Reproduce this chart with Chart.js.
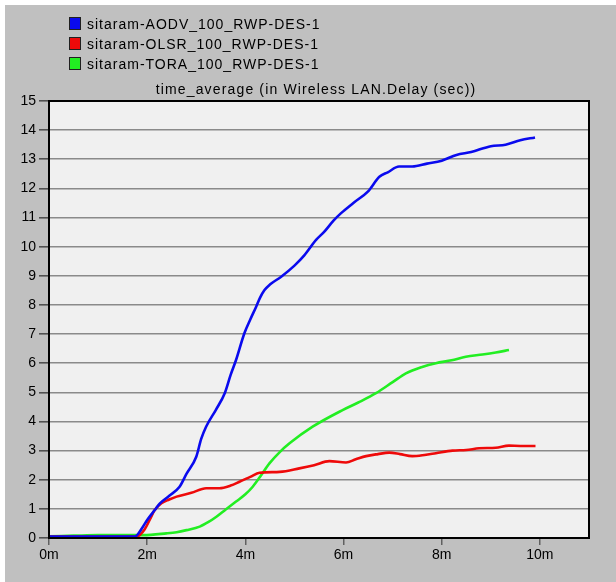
<!DOCTYPE html>
<html>
<head>
<meta charset="utf-8">
<script src="https://cdn.jsdelivr.net/npm/chart.js@4/dist/chart.umd.min.js"></script>
<style>
  html, body { margin: 0; padding: 0; background: #ffffff; }
  #frame { position: absolute; left: 5px; top: 5px; width: 611px; height: 577px; background: #c0c0c0; }
  #chart { position: absolute; left: 0; top: 0; }
  #legend { position: absolute; left: 64px; top: 9px; font-family: "Liberation Sans", Arial, sans-serif; font-size: 14px; letter-spacing: 1px; color: #000; }
  .row { height: 20px; line-height: 20px; white-space: nowrap; }
  .box { display: inline-block; width: 10px; height: 11px; border: 1px solid #202020; vertical-align: -1px; margin-right: 6px; }
  #title { position: absolute; left: 0; width: 622px; top: 75px; text-align: center; font-family: "Liberation Sans", Arial, sans-serif; font-size: 14px; letter-spacing: 1.15px; color: #000; line-height: 18px; }
</style>
</head>
<body>
<div id="frame">
  <canvas id="chart" width="611" height="577"></canvas>
  <div id="legend"></div>
  <div id="title"></div>
</div>
<script>
const seriesNames = ["sitaram-AODV_100_RWP-DES-1", "sitaram-OLSR_100_RWP-DES-1", "sitaram-TORA_100_RWP-DES-1"];
const chartTitle = "time_average (in Wireless LAN.Delay (sec))";
const xTickValues = [0, 2, 4, 6, 8, 10];
const xTickSuffix = "m";

const aodvX = [0, 0.5, 1.0, 1.5, 1.75, 1.9, 2.0, 2.15, 2.26, 2.45, 2.66, 2.8, 3.0, 3.1, 3.2, 3.4, 3.58, 3.7, 3.81, 3.98, 4.1, 4.22, 4.3, 4.39, 4.5, 4.73, 5.0, 5.2, 5.44, 5.6, 5.8, 5.95, 6.2, 6.5, 6.73, 6.9, 7.13, 7.4, 7.7, 8.0, 8.3, 8.6, 9.0, 9.3, 9.6, 9.9];
const aodvY = [0.05, 0.05, 0.05, 0.05, 0.05, 0.35, 0.62, 0.95, 1.19, 1.45, 1.76, 2.2, 2.79, 3.4, 3.82, 4.4, 4.97, 5.6, 6.11, 7.03, 7.5, 7.94, 8.25, 8.51, 8.7, 8.97, 9.35, 9.7, 10.23, 10.5, 10.9, 11.15, 11.5, 11.9, 12.4, 12.55, 12.75, 12.75, 12.85, 12.95, 13.15, 13.25, 13.45, 13.5, 13.65, 13.75];

const olsrX = [0, 0.5, 1.0, 1.5, 1.79, 1.95, 2.05, 2.15, 2.29, 2.45, 2.6, 2.9, 3.2, 3.47, 3.7, 3.88, 4.1, 4.29, 4.7, 5.1, 5.4, 5.71, 6.05, 6.25, 6.46, 6.7, 6.93, 7.15, 7.4, 7.65, 7.88, 8.22, 8.5, 8.76, 9.1, 9.37, 9.6, 9.91];
const olsrY = [0.05, 0.05, 0.05, 0.05, 0.05, 0.3, 0.62, 0.95, 1.19, 1.32, 1.42, 1.55, 1.71, 1.71, 1.8, 1.93, 2.1, 2.24, 2.27, 2.39, 2.5, 2.64, 2.59, 2.7, 2.81, 2.88, 2.93, 2.88, 2.81, 2.85, 2.91, 3.0, 3.02, 3.08, 3.1, 3.17, 3.16, 3.16];

const toraX = [0, 0.5, 1.0, 1.5, 1.92, 2.39, 2.6, 2.8, 3.07, 3.25, 3.41, 3.6, 3.81, 4.0, 4.15, 4.3, 4.49, 4.7, 4.9, 5.37, 5.98, 6.3, 6.66, 7.0, 7.27, 7.6, 7.88, 8.2, 8.49, 8.83, 9.1, 9.37];
const toraY = [0.06, 0.08, 0.1, 0.1, 0.1, 0.16, 0.2, 0.27, 0.39, 0.55, 0.73, 0.98, 1.25, 1.5, 1.76, 2.1, 2.56, 2.95, 3.25, 3.82, 4.39, 4.65, 4.97, 5.35, 5.65, 5.87, 6.0, 6.1, 6.22, 6.3, 6.37, 6.45];

const seriesColors = ["#0a0aee", "#ee0a0a", "#22ee22"];

function pts(xs, ys) { return xs.map((x, i) => ({ x: x, y: ys[i] })); }

// HTML legend and title
const legendEl = document.getElementById('legend');
seriesNames.forEach((n, i) => {
  const r = document.createElement('div'); r.className = 'row';
  const b = document.createElement('span'); b.className = 'box'; b.style.background = seriesColors[i];
  r.appendChild(b); r.appendChild(document.createTextNode(n));
  legendEl.appendChild(r);
});
document.getElementById('title').textContent = chartTitle;

const framePlugin = {
  id: 'frame',
  beforeDraw(chart) {
    const { ctx, chartArea: a } = chart;
    ctx.save(); ctx.fillStyle = '#f0f0f0';
    ctx.fillRect(a.left, a.top, a.right - a.left, a.bottom - a.top);
    ctx.restore();
  },
  afterDraw(chart) {
    const { ctx, chartArea: a } = chart;
    ctx.save(); ctx.strokeStyle = '#000'; ctx.lineWidth = 2;
    ctx.strokeRect(a.left, a.top, a.right - a.left, a.bottom - a.top);
    ctx.restore();
  }
};

const datasets = [[aodvX, aodvY], [olsrX, olsrY], [toraX, toraY]].map((d, i) => ({
  label: seriesNames[i],
  data: pts(d[0], d[1]),
  borderColor: seriesColors[i],
  backgroundColor: seriesColors[i],
  borderWidth: 2.6,
  pointRadius: 0,
  tension: 0.3,
  cubicInterpolationMode: 'monotone',
  fill: false
}));

new Chart(document.getElementById('chart'), {
  type: 'line',
  data: { datasets: datasets },
  plugins: [framePlugin],
  options: {
    responsive: false,
    animation: false,
    layout: { padding: { top: 96, right: 27, bottom: 0, left: 0 } },
    plugins: { legend: { display: false }, title: { display: false }, tooltip: { enabled: false } },
    scales: {
      x: {
        type: 'linear', min: 0, max: 11,
        afterBuildTicks(scale) { scale.ticks = xTickValues.map(v => ({ value: v })); },
        afterFit(scale) { scale.height = 44; },
        ticks: {
          callback: v => v + xTickSuffix,
          color: '#000', padding: 2, maxRotation: 0,
          font: { family: '"Liberation Sans", Arial, sans-serif', size: 14 }
        },
        grid: { drawOnChartArea: false, drawTicks: true, tickLength: 7, color: '#606060', lineWidth: 1.5 },
        border: { color: '#000', width: 2 }
      },
      y: {
        min: 0, max: 15,
        afterFit(scale) { scale.width = 44; },
        ticks: {
          stepSize: 1, color: '#000', padding: 3,
          font: { family: '"Liberation Sans", Arial, sans-serif', size: 14 }
        },
        grid: { color: '#8a8a8a', lineWidth: 1.6, tickLength: 10, tickColor: '#505050' },
        border: { color: '#000', width: 2 }
      }
    }
  }
});
</script>
</body>
</html>
